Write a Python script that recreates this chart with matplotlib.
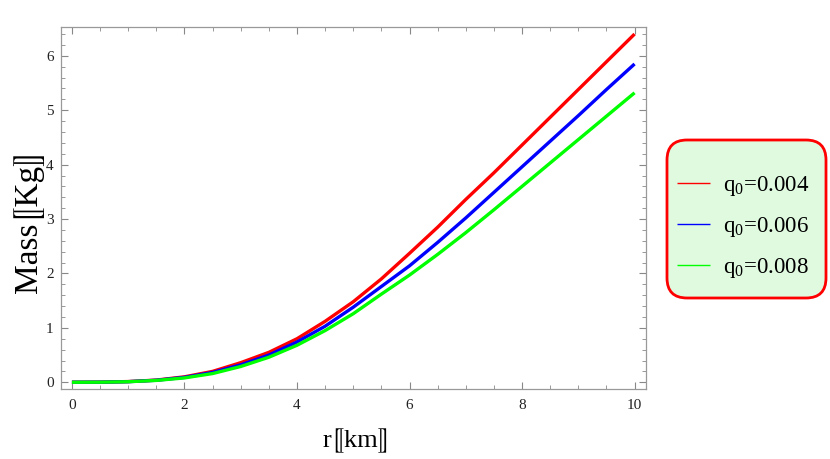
import matplotlib
matplotlib.use("Agg")
import matplotlib.pyplot as plt
from matplotlib.ticker import MultipleLocator
from matplotlib.patches import FancyBboxPatch

r = [0, 0.5, 1, 1.5, 2, 2.5, 3, 3.5, 4, 4.5, 5, 5.5, 6, 6.5, 7, 7.5, 8, 8.5, 9, 9.5, 10]
m_004 = [0, 0.002, 0.013, 0.04, 0.1, 0.2, 0.36, 0.55, 0.8, 1.12, 1.48, 1.9, 2.37, 2.85,
         3.36, 3.85, 4.36, 4.87, 5.38, 5.89, 6.4]
m_006 = [0, 0.0015, 0.011, 0.037, 0.09, 0.18, 0.32, 0.5, 0.74, 1.03, 1.38, 1.76, 2.14, 2.57,
         3.02, 3.49, 3.96, 4.43, 4.9, 5.38, 5.85]
m_008 = [0, 0.0013, 0.01, 0.034, 0.08, 0.16, 0.29, 0.46, 0.68, 0.95, 1.26, 1.62, 1.97, 2.35,
         2.75, 3.17, 3.6, 4.03, 4.46, 4.89, 5.32]
labels = [r"q$_{\mathrm{0}}$=0.004", r"q$_{\mathrm{0}}$=0.006", r"q$_{\mathrm{0}}$=0.008"]
colors = ["#ff0000", "#0000ff", "#00ff00"]

plt.rcParams["mathtext.fontset"] = "custom"
plt.rcParams["mathtext.rm"] = "Liberation Serif"
plt.rcParams["font.family"] = ["Liberation Serif", "STIXGeneral", "DejaVu Sans"]

fig = plt.figure(figsize=(8.3, 4.59), dpi=100)
ax = fig.add_axes([0.0731, 0.152, 0.705, 0.789])

for y, c, lab in zip([m_004, m_006, m_008], colors, labels):
    ax.plot(r, y, color=c, lw=2.4, label=lab, solid_capstyle="butt")

ax.set_xlim(-0.2, 10.2)
ax.set_ylim(-0.128, 6.528)
ax.xaxis.set_major_locator(MultipleLocator(2))
ax.xaxis.set_minor_locator(MultipleLocator(0.5))
ax.yaxis.set_major_locator(MultipleLocator(1))
ax.yaxis.set_minor_locator(MultipleLocator(0.2))
ax.tick_params(which="both", direction="in", top=True, right=True, color="#888888",
               labelsize=11, labelcolor="#222222")
ax.tick_params(which="major", length=5, width=0.8)
ax.tick_params(which="minor", length=3, width=0.6)
ax.tick_params(axis="x", pad=7)
ax.tick_params(axis="y", pad=5)
for s in ax.spines.values():
    s.set_color("#999999")
    s.set_linewidth(0.9)

fam = ["Liberation Serif", "STIXGeneral", "DejaVu Sans"]
fig.text(0.034, 0.52, "Mass⟦Kg⟧", rotation=90, ha="center", va="center", fontsize=24,
         family=fam)
fig.text(0.43, 0.04, "r⟦km⟧", ha="center", va="center", fontsize=19, family=fam)

# rounded legend box (display pixels)
box = FancyBboxPatch((667, 161), 159, 158, boxstyle="round,pad=0,rounding_size=20",
                     transform=None, facecolor="#e0fae0", edgecolor="#ff0000",
                     linewidth=2, zorder=-1)
fig.patches.append(box)

leg = fig.legend(*ax.get_legend_handles_labels(), loc="center",
                 bbox_to_anchor=(743 / 830, 1 - 227 / 459),
                 bbox_transform=fig.transFigure, fontsize=16.5, frameon=False,
                 handlelength=1.44, handletextpad=0.57, labelspacing=0.75, borderpad=0)
leg.set_zorder(5)
for h in leg.get_lines():
    h.set_linewidth(1.0)

fig.savefig("out.png", dpi=100)
